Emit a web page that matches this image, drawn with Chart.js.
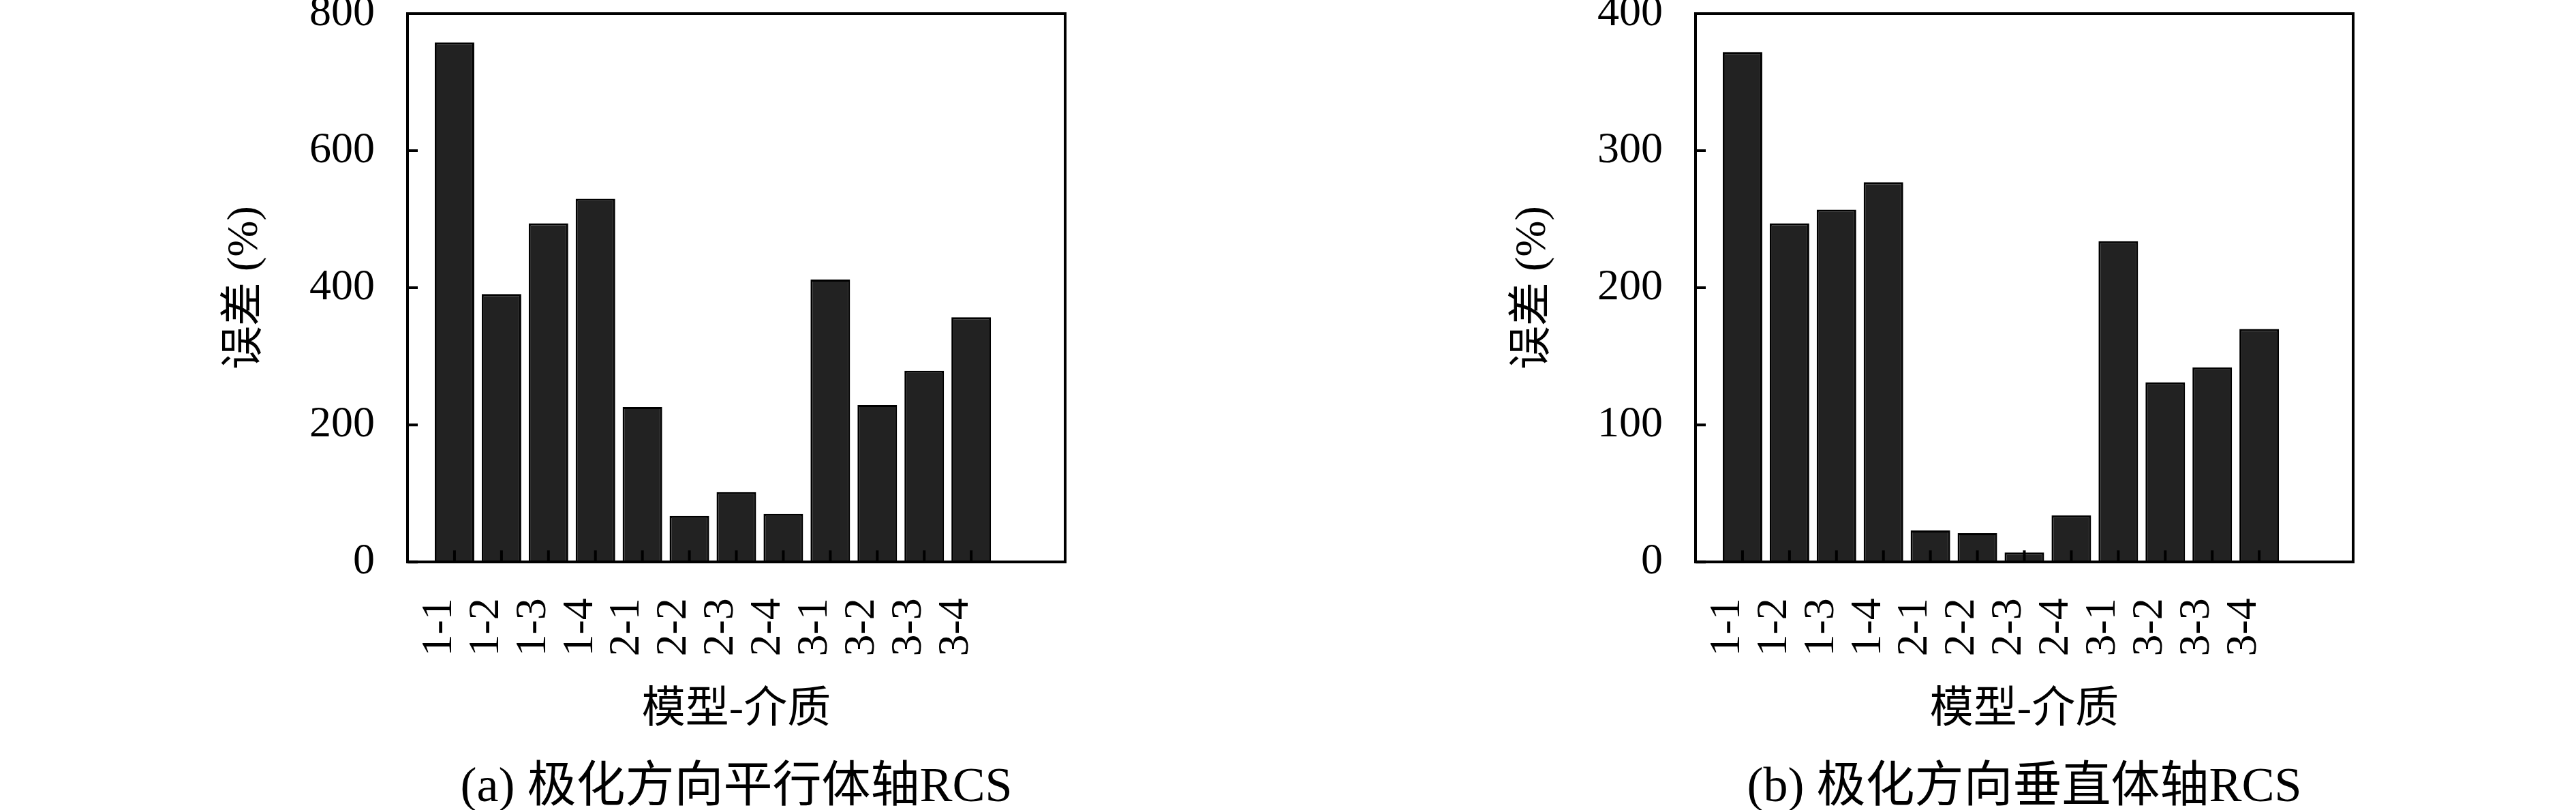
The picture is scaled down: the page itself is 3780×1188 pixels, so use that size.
<!DOCTYPE html>
<html><head><meta charset="utf-8">
<script src="https://cdn.jsdelivr.net/npm/chart.js@4.4.1/dist/chart.umd.min.js"></script>
<style>
html,body{margin:0;padding:0;background:#fff;}
#wrap{position:relative;width:3780px;height:1188px;background:#fff;}
canvas{position:absolute;top:0;}
</style></head><body>
<div id="wrap">
<canvas id="c1" width="1890" height="1188" style="left:0"></canvas>
<canvas id="c2" width="1890" height="1188" style="left:1890px"></canvas>
</div>
<script>
const categories = ['1-1','1-2','1-3','1-4','2-1','2-2','2-3','2-4','3-1','3-2','3-3','3-4'];
const parallelErrors = [758, 391, 494, 530, 226, 67, 102, 70, 412, 229, 279, 357];
const perpendicularErrors = [372, 247, 257, 277, 23, 21, 7, 34, 234, 131, 142, 170];
const parallelYTicks = [0, 200, 400, 600, 800];
const perpendicularYTicks = [0, 100, 200, 300, 400];
const xTitle = '模型-介质';
const yTitle = '误差 (%)';
const captionA = '(a) 极化方向平行体轴RCS';
const captionB = '(b) 极化方向垂直体轴RCS';

const FAMILY = "'Liberation Serif', 'Noto Sans CJK SC', serif";

const framePlugin = {
  id: 'frame',
  afterDatasetsDraw(chart) {
    const {ctx, chartArea: a, scales: {x, y}} = chart;
    ctx.save();
    ctx.strokeStyle = '#000';
    ctx.lineWidth = 4;
    ctx.beginPath();
    x.ticks.forEach(t => {
      const px = x.getPixelForValue(t.value);
      ctx.moveTo(px, a.bottom); ctx.lineTo(px, a.bottom - 17);
    });
    y.ticks.forEach(t => {
      const py = y.getPixelForValue(t.value);
      ctx.moveTo(a.left, py); ctx.lineTo(a.left + 15, py);
    });
    ctx.stroke();
    ctx.strokeRect(a.left, a.top, a.right - a.left, a.bottom - a.top);
    ctx.restore();
  }
};

function makeChart(id, values, yTicks, caption) {
  const ymax = yTicks[yTicks.length - 1];
  return new Chart(document.getElementById(id), {
    type: 'bar',
    data: {
      datasets: [{
        data: categories.map((c, i) => ({x: i + 1, y: values[i]})),
        backgroundColor: '#222222',
        borderColor: '#000000',
        borderWidth: 3,
        barPercentage: 0.842,
        categoryPercentage: 1
      }]
    },
    options: {
      responsive: false,
      animation: false,
      devicePixelRatio: 1,
      layout: {padding: {left: 0, top: 20, right: 327, bottom: 0}},
      plugins: {
        legend: {display: false},
        tooltip: {enabled: false},
        title: {
          display: true, text: caption, position: 'bottom', fullSize: false,
          color: '#000', font: {family: FAMILY, size: 72, weight: 'normal', lineHeight: 0.9},
          padding: {top: 0, bottom: 0}
        }
      },
      scales: {
        x: {
          type: 'linear', min: 0, max: categories.length + 2, offset: false,
          grid: {display: false, drawTicks: false},
          border: {display: false},
          afterBuildTicks(s) { s.ticks = categories.map((c, i) => ({value: i + 1})); },
          afterFit(s) { s.height = 299; s.paddingLeft = 0; s.paddingRight = 0; },
          ticks: {
            autoSkip: false, maxRotation: 90, minRotation: 90, padding: 53, labelOffset: -22,
            color: '#000', font: {family: FAMILY, size: 64, lineHeight: 1},
            callback: (v) => categories[v - 1] ?? ''
          },
          title: {
            display: true, text: xTitle, color: '#000',
            font: {family: FAMILY, size: 64, lineHeight: 1},
            padding: {top: 0, bottom: 49}
          }
        },
        y: {
          min: 0, max: ymax,
          grid: {display: false, drawTicks: false},
          border: {display: false},
          afterBuildTicks(s) { s.ticks = yTicks.map(v => ({value: v})); },
          afterFit(s) { s.width = 598; s.paddingTop = 0; s.paddingBottom = 0; },
          ticks: {
            padding: 48, color: '#000',
            font: {family: FAMILY, size: 64, lineHeight: 1}
          },
          title: {
            display: true, text: yTitle, color: '#000',
            font: {family: FAMILY, size: 64, lineHeight: 1},
            padding: {top: 328, bottom: 0}
          }
        }
      }
    },
    plugins: [framePlugin]
  });
}

makeChart('c1', parallelErrors, parallelYTicks, captionA);
makeChart('c2', perpendicularErrors, perpendicularYTicks, captionB);
</script>
</body></html>
